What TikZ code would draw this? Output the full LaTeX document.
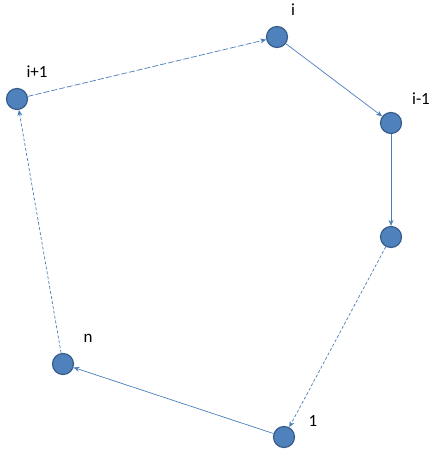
\documentclass[tikz,border=0pt]{standalone}
\usepackage{fontspec}
\setmainfont{Carlito}
\usetikzlibrary{arrows.meta}
\definecolor{nodefill}{HTML}{4F81BD}
\definecolor{nodeedge}{HTML}{385D8A}
\definecolor{edgecol}{HTML}{4A7EBB}
\begin{document}
\begin{tikzpicture}[x=1pt,y=-1pt,
  vtx/.style={circle,fill=nodefill,draw=nodeedge,line width=1.2pt,minimum size=21pt,inner sep=0pt},
  lbl/.style={font=\fontsize{17}{17}\selectfont,inner sep=0pt},
  edge/.style={draw=edgecol,line width=0.7pt,-{Stealth[length=6pt,width=5pt]}},
  longdash/.style={dash pattern=on 6pt off 2pt},
  shortdash/.style={dash pattern=on 3pt off 2pt}]
\useasboundingbox (0,0) rectangle (434,454);
\node[vtx] (i) at (277,37) {};
\node[vtx] (ip) at (17,99) {};
\node[vtx] (im) at (391,123) {};
\node[vtx] (v) at (391,237) {};
\node[vtx] (n) at (63,364) {};
\node[vtx] (one) at (284,437) {};
\node[lbl] (li) at (293,10) {i};
\node[lbl] (lip) at (37,72) {i+1};
\node[lbl] (lim) at (421,99) {i-1};
\node[lbl] (ln) at (88,338) {n};
\node[lbl] (l1) at (313,421) {1};
\draw[edge,longdash] (ip) -- (i);
\draw[edge] (i) -- (im);
\draw[edge] (im) -- (v);
\draw[edge,shortdash] (v) -- (one);
\draw[edge] (one) -- (n);
\draw[edge,shortdash] (n) -- (ip);
\end{tikzpicture}
\end{document}
